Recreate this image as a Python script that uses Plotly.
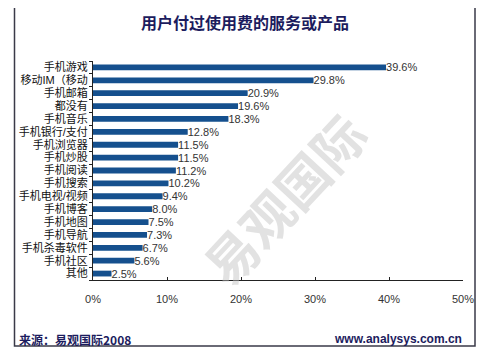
import plotly.graph_objects as go

categories = ["手机游戏", "移动IM（移动", "手机邮箱", "都没有", "手机音乐", "手机银行/支付",
              "手机浏览器", "手机炒股", "手机阅读", "手机搜索", "手机电视/视频", "手机博客",
              "手机地图", "手机导航", "手机杀毒软件", "手机社区", "其他"]
values = [39.6, 29.8, 20.9, 19.6, 18.3, 12.8, 11.5, 11.5, 11.2, 10.2, 9.4, 8.0, 7.5, 7.3, 6.7, 5.6, 2.5]
x_ticks = [0, 10, 20, 30, 40, 50]
x_tick_labels = ["0%", "10%", "20%", "30%", "40%", "50%"]
title_text = "用户付过使用费的服务或产品"
source_text = "来源：易观国际2008"
site_text = "www.analysys.com.cn"
watermark = "易观国际"

CJK = "Noto Sans CJK SC"
LAT = "Liberation Sans, Arial"
NAVY = "#1c1c5e"

# page body has an 8px default margin: the figure is offset by it
OFF = 8
W, H = 500 - OFF, 357 - OFF
plot_left, plot_right, plot_top, plot_bottom = 93, 463, 61, 280  # reference pixels
L = plot_left - OFF
R = W - (plot_right - OFF)
T = plot_top - OFF
B = H - (plot_bottom - OFF)
pw, ph = W - L - R, H - T - B

def px(xp):
    return (xp - plot_left) / pw

def py(yp):
    return (plot_bottom - yp) / ph

fig = go.Figure(go.Bar(
    x=values, y=categories, orientation="h",
    marker=dict(color="#15508e", line=dict(width=0)),
    text=[f"{v:.1f}%" for v in values], textposition="outside",
    constraintext="none",
    textfont=dict(family=LAT, size=11, color="#333333"),
    cliponaxis=False, hoverinfo="skip",
))

fig.update_layout(
    width=W, height=H,
    margin=dict(l=L, r=R, t=T, b=B, pad=0),
    paper_bgcolor="white", plot_bgcolor="white",
    bargap=0.55, showlegend=False,
    uniformtext=dict(mode=False),
    xaxis=dict(range=[0, 50], tickvals=x_ticks, ticktext=x_tick_labels,
               ticks="inside", ticklen=3, tickcolor="#222", showgrid=False,
               zeroline=False, showline=True, linecolor="#222", linewidth=1,
               tickfont=dict(family=LAT, size=11, color="#333"),
               ticklabelstandoff=9, fixedrange=True, automargin=False),
    yaxis=dict(autorange="reversed", tickmode="array", tickvals=categories,
               ticktext=categories, ticks="outside", ticklen=3, tickcolor="#222",
               tickson="boundaries", showgrid=False, zeroline=False,
               showline=True, linecolor="#222", linewidth=1,
               tickfont=dict(family="Liberation Sans, " + CJK, size=11, color="#111"),
               ticklabelstandoff=2, fixedrange=True, automargin=False),
    shapes=[dict(type="rect", xref="paper", yref="paper",
                 x0=px(14.5), x1=px(475), y0=py(346), y1=py(4.5),
                 line=dict(color="#3a3a48", width=1.5), fillcolor="white",
                 layer="below")],
    annotations=[
        dict(text=f"<b>{title_text}</b>", xref="paper", yref="paper",
             x=px(245), y=py(22), showarrow=False, xanchor="center", yanchor="middle",
             font=dict(family=CJK, size=16, color=NAVY)),
        dict(text=f"<b>{source_text}</b>", xref="paper", yref="paper",
             x=px(17), y=py(339), showarrow=False, xanchor="left", yanchor="middle",
             font=dict(family=CJK, size=12, color=NAVY)),
        dict(text=f"<b>{site_text}</b>", xref="paper", yref="paper",
             x=px(464), y=py(339), showarrow=False, xanchor="right", yanchor="middle",
             font=dict(family=LAT, size=12, color=NAVY)),
        dict(text=f"<b>{watermark}</b>", xref="paper", yref="paper",
             x=px(283), y=py(198), showarrow=False, xanchor="center", yanchor="middle",
             textangle=-47, font=dict(family=CJK, size=52, color="rgba(190,190,190,0.45)")),
    ],
)

fig.write_html("out.html")
